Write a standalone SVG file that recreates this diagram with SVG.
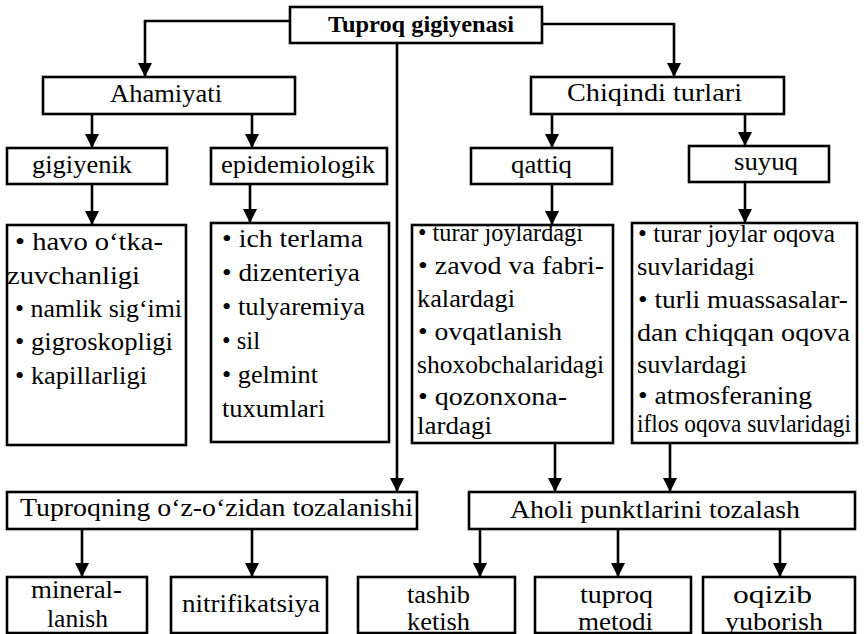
<svg xmlns="http://www.w3.org/2000/svg" width="864" height="634" viewBox="0 0 864 634">
<defs>
<marker id="ah" viewBox="0 0 14 14" markerWidth="14" markerHeight="14" refX="14" refY="7" orient="auto" markerUnits="userSpaceOnUse">
<path d="M0,0 L14,7 L0,14 z" fill="#000"/>
</marker>
<style>
rect{fill:#fff;stroke:#000;stroke-width:2.6}
text{font-family:'Liberation Serif',serif;font-size:25px;fill:#000}
.b{font-weight:bold;font-size:24px}
.c{fill:none;stroke:#000;stroke-width:2.6;marker-end:url(#ah)}
</style>
</defs>
<rect x="0" y="0" width="864" height="634" style="fill:#fff;stroke:none"/>
<g id="connectors">
<path class="c" d="M290,21 H145 V77"/>
<path class="c" d="M542,24 H674 V77"/>
<path class="c" d="M397,43 V492"/>
<path class="c" d="M92,114 V148"/>
<path class="c" d="M252,114 V148"/>
<path class="c" d="M552,114 V148"/>
<path class="c" d="M745,114 V146"/>
<path class="c" d="M92,184 V225"/>
<path class="c" d="M250,184 V223"/>
<path class="c" d="M552,184 V225"/>
<path class="c" d="M745,182 V223"/>
<path class="c" d="M555,443 V492"/>
<path class="c" d="M670,443 V492"/>
<path class="c" d="M82,529 V577"/>
<path class="c" d="M252,529 V577"/>
<path class="c" d="M480,529 V577"/>
<path class="c" d="M618,529 V577"/>
<path class="c" d="M780,529 V577"/>
</g>
<g id="n-root"><rect x="290" y="7" width="252" height="36"/><text class="b" x="328" y="32" textLength="186" lengthAdjust="spacingAndGlyphs">Tuproq gigiyenasi</text></g>
<g id="n-ahamiyati"><rect x="43" y="77" width="252" height="37"/><text x="110" y="102" textLength="112" lengthAdjust="spacingAndGlyphs">Ahamiyati</text></g>
<g id="n-chiqindi"><rect x="531" y="77" width="253" height="37"/><text x="567" y="101" textLength="175" lengthAdjust="spacingAndGlyphs">Chiqindi  turlari</text></g>
<g id="n-gigiyenik"><rect x="7" y="148" width="160" height="36"/><text x="32" y="173" textLength="100" lengthAdjust="spacingAndGlyphs">gigiyenik</text></g>
<g id="n-epid"><rect x="211" y="148" width="176" height="36"/><text x="221" y="173" textLength="154" lengthAdjust="spacingAndGlyphs">epidemiologik</text></g>
<g id="n-qattiq"><rect x="471" y="148" width="141" height="36"/><text x="511" y="173" textLength="61" lengthAdjust="spacingAndGlyphs">qattiq</text></g>
<g id="n-suyuq"><rect x="689" y="146" width="140" height="36"/><text x="734" y="170" textLength="64" lengthAdjust="spacingAndGlyphs">suyuq</text></g>
<g id="n-gig-list"><rect x="7" y="225" width="179" height="220"/>
<text x="15" y="250" textLength="148" lengthAdjust="spacingAndGlyphs">• havo o‘tka-</text>
<text x="7" y="284" textLength="133" lengthAdjust="spacingAndGlyphs">zuvchanligi</text>
<text x="15" y="317" textLength="167" lengthAdjust="spacingAndGlyphs">• namlik sig‘imi</text>
<text x="15" y="350" textLength="158" lengthAdjust="spacingAndGlyphs">•  gigroskopligi</text>
<text x="15" y="384" textLength="132" lengthAdjust="spacingAndGlyphs">• kapillarligi</text>
</g>
<g id="n-epid-list"><rect x="211" y="223" width="178" height="219"/>
<text x="222" y="247" textLength="141" lengthAdjust="spacingAndGlyphs">• ich terlama</text>
<text x="222" y="281" textLength="138" lengthAdjust="spacingAndGlyphs">•  dizenteriya</text>
<text x="222" y="315" textLength="143" lengthAdjust="spacingAndGlyphs">• tulyaremiya</text>
<text x="222" y="349" textLength="38" lengthAdjust="spacingAndGlyphs">• sil</text>
<text x="222" y="383" textLength="96" lengthAdjust="spacingAndGlyphs">• gelmint</text>
<text x="222" y="417" textLength="103" lengthAdjust="spacingAndGlyphs">tuxumlari</text>
</g>
<g id="n-qattiq-list"><rect x="412" y="225" width="201" height="218"/>
<text x="418" y="241" textLength="165" lengthAdjust="spacingAndGlyphs">• turar joylardagi</text>
<text x="418" y="274" textLength="186" lengthAdjust="spacingAndGlyphs">• zavod va fabri-</text>
<text x="417" y="307" textLength="98" lengthAdjust="spacingAndGlyphs">kalardagi</text>
<text x="418" y="340" textLength="144" lengthAdjust="spacingAndGlyphs">•  ovqatlanish</text>
<text x="417" y="373" textLength="187" lengthAdjust="spacingAndGlyphs">shoxobchalaridagi</text>
<text x="418" y="405" textLength="149" lengthAdjust="spacingAndGlyphs">• qozonxona-</text>
<text x="417" y="434" textLength="75" lengthAdjust="spacingAndGlyphs">lardagi</text>
</g>
<g id="n-suyuq-list"><rect x="632" y="223" width="225" height="220"/>
<text x="638" y="242" textLength="197" lengthAdjust="spacingAndGlyphs">• turar joylar oqova</text>
<text x="637" y="275" textLength="118" lengthAdjust="spacingAndGlyphs">suvlaridagi</text>
<text x="638" y="308" textLength="210" lengthAdjust="spacingAndGlyphs">• turli muassasalar-</text>
<text x="637" y="341" textLength="213" lengthAdjust="spacingAndGlyphs">dan  chiqqan  oqova</text>
<text x="637" y="373" textLength="110" lengthAdjust="spacingAndGlyphs">suvlardagi</text>
<text x="638" y="404" textLength="174" lengthAdjust="spacingAndGlyphs">•  atmosferaning</text>
<text x="637" y="432" textLength="214" lengthAdjust="spacingAndGlyphs">iflos oqova suvlaridagi</text>
</g>
<g id="n-tuproqning"><rect x="7" y="492" width="410" height="37"/><text x="20" y="516" textLength="393" lengthAdjust="spacingAndGlyphs">Tuproqning  o‘z-o‘zidan  tozalanishi</text></g>
<g id="n-aholi"><rect x="469" y="492" width="386" height="37"/><text x="510" y="518" textLength="290" lengthAdjust="spacingAndGlyphs">Aholi  punktlarini  tozalash</text></g>
<g id="n-mineral"><rect x="7" y="577" width="140" height="56"/><text x="31" y="598" textLength="91" lengthAdjust="spacingAndGlyphs">mineral-</text><text x="47" y="627" textLength="61" lengthAdjust="spacingAndGlyphs">lanish</text></g>
<g id="n-nitri"><rect x="171" y="577" width="156" height="56"/><text x="182" y="612" textLength="138" lengthAdjust="spacingAndGlyphs">nitrifikatsiya</text></g>
<g id="n-tashib"><rect x="358" y="577" width="157" height="56"/><text x="407" y="603" textLength="63" lengthAdjust="spacingAndGlyphs">tashib</text><text x="407" y="630" textLength="63" lengthAdjust="spacingAndGlyphs">ketish</text></g>
<g id="n-tuproq"><rect x="535" y="577" width="156" height="56"/><text x="580" y="603" textLength="73" lengthAdjust="spacingAndGlyphs">tuproq</text><text x="578" y="630" textLength="75" lengthAdjust="spacingAndGlyphs">metodi</text></g>
<g id="n-oqizib"><rect x="703" y="577" width="152" height="56"/><text x="733" y="603" textLength="79" lengthAdjust="spacingAndGlyphs">oqizib</text><text x="725" y="630" textLength="98" lengthAdjust="spacingAndGlyphs">yuborish</text></g>
</svg>
